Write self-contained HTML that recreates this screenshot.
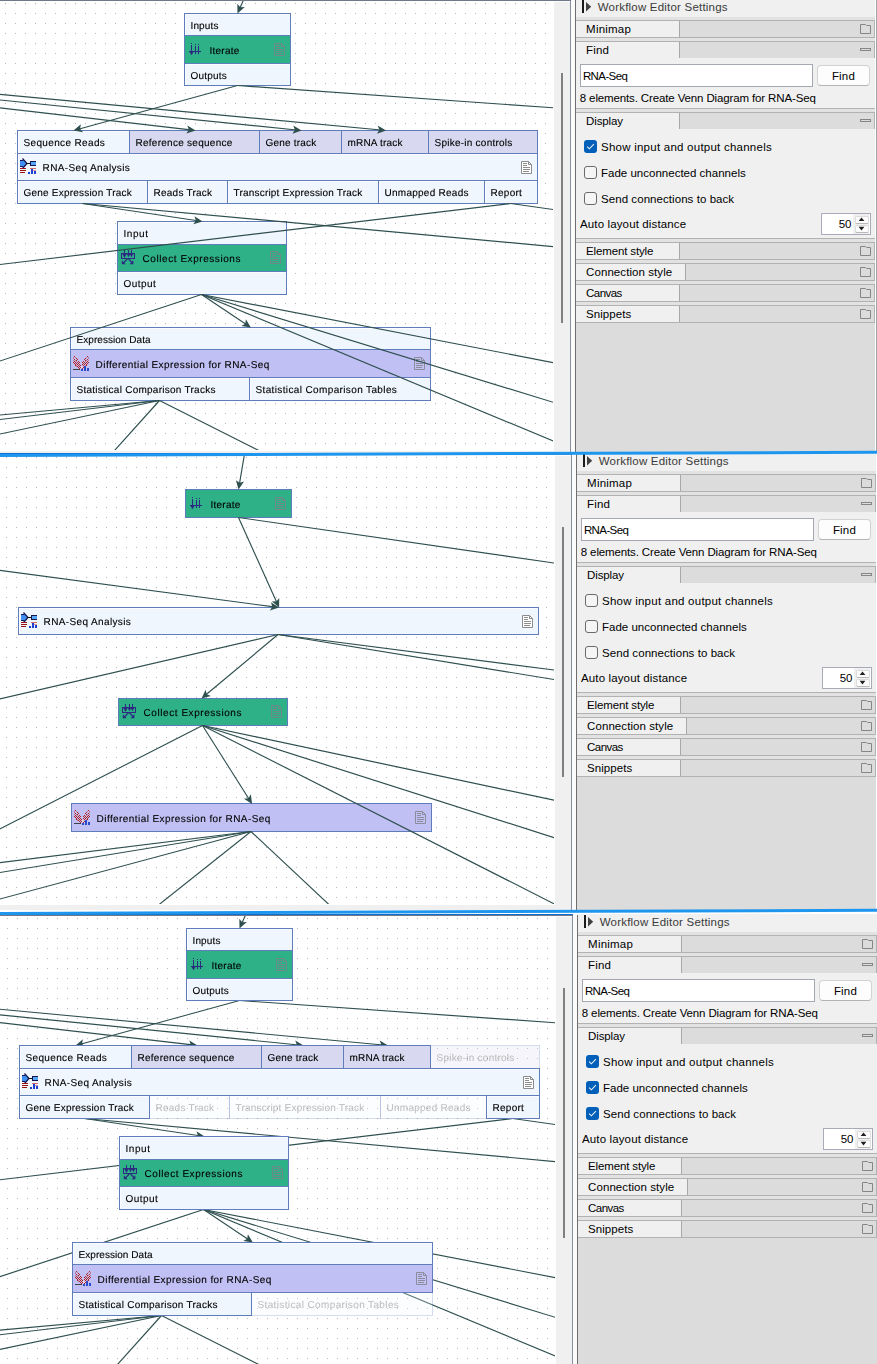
<!DOCTYPE html><html><head><meta charset="utf-8"><title>Workflow Editor</title><style>

html,body{margin:0;padding:0}
body{width:877px;height:1364px;position:relative;overflow:hidden;background:#fff;font-family:"Liberation Sans",sans-serif}
.shot{position:absolute;overflow:hidden;background:#fff}
.canvas{position:absolute;top:0;height:451px;overflow:hidden;background:#fff}
.r{position:absolute;display:block}
.nl{position:absolute;left:0;top:0;width:554px;height:451px;will-change:transform}
.c{position:absolute;border:1px solid #5f7cbb;overflow:hidden}
.c.l{box-shadow:inset 1px 1px 0 rgba(255,255,255,.7)}
.c.f{opacity:.26}
.t{position:absolute;white-space:nowrap;line-height:16px;height:16px}
.t.g{font-size:10.0px;text-rendering:geometricPrecision;-webkit-text-stroke:0.12px currentColor}
.t.p{font-size:11.5px}

</style></head><body>
<div class="shot" style="left:0;top:0px;width:877px;height:453px"><div class="r" style="left:0px;top:0;width:877px;height:453px">
<div class="r" style="left:554px;top:0px;width:16px;height:456px;background:#f0f0f0;"></div>
<div class="r" style="left:554px;top:1px;width:16px;height:1px;background:#fbfbfb;"></div>
<div class="r" style="left:0px;top:451px;width:570px;height:5px;background:#f0f0f0;"></div>
<div class="r" style="left:561px;top:73px;width:2px;height:250px;background:#808080;"></div>
<div class="r" style="left:570px;top:0px;width:1px;height:453px;background:#8890a0;"></div>
<div class="r" style="left:571px;top:0px;width:4px;height:453px;background:#fbfbfb;"></div>
<div class="r" style="left:575px;top:0px;width:1px;height:453px;background:#6e6e6e;"></div>
<div class="r" style="left:875px;top:0px;width:1px;height:453px;background:#ffffff;"></div>
<div class="r" style="left:876px;top:0px;width:1px;height:453px;background:#a4a4a4;"></div>
<div class="canvas" style="left:0px;width:554px"><div class="r" style="left:0px;top:0;width:554px;height:451px">
<svg class="r" style="left:-10px;top:0" width="564" height="451"><defs><pattern id="d1" x="0" y="0" width="10" height="10" patternUnits="userSpaceOnUse"><rect x="5" y="3" width="1" height="1" fill="#b8b8b8"/></pattern></defs><rect width="564" height="451" fill="url(#d1)" shape-rendering="crispEdges"/></svg>
<div class="nl"><div class="c l" style="left:184px;top:13px;width:105px;height:21px;background:#f0f6fe;"><span class="t g" style="left:5.50px;top:5px;letter-spacing:0.132px;color:#000">Inputs</span></div>
<div class="c l" style="left:184px;top:63px;width:105px;height:21px;background:#f0f6fe;"><span class="t g" style="left:5.50px;top:5px;letter-spacing:0.197px;color:#000">Outputs</span></div>
<div class="c" style="left:184px;top:35px;width:105px;height:27px;background:#2fb188;"><span class="t g" style="left:24.60px;top:8px;letter-spacing:0.209px;color:#000">Iterate</span></div>
<div class="c l" style="left:17px;top:130px;width:111px;height:22px;background:#f0f6fe;"><span class="t g" style="left:5.50px;top:5px;letter-spacing:0.352px;color:#000">Sequence Reads</span></div>
<div class="c" style="left:129px;top:130px;width:129px;height:22px;background:#d8d8f0;"><span class="t g" style="left:5.50px;top:5px;letter-spacing:0.266px;color:#000">Reference sequence</span></div>
<div class="c" style="left:259px;top:130px;width:81px;height:22px;background:#d8d8f0;"><span class="t g" style="left:5.50px;top:5px;letter-spacing:0.199px;color:#000">Gene track</span></div>
<div class="c" style="left:341px;top:130px;width:86px;height:22px;background:#d8d8f0;"><span class="t g" style="left:5.50px;top:5px;letter-spacing:0.185px;color:#000">mRNA track</span></div>
<div class="c" style="left:428px;top:130px;width:108px;height:22px;background:#d8d8f0;"><span class="t g" style="left:5.50px;top:5px;letter-spacing:0.243px;color:#000">Spike-in controls</span></div>
<div class="c l" style="left:17px;top:180px;width:129px;height:22px;background:#f0f6fe;"><span class="t g" style="left:5.50px;top:5px;letter-spacing:0.214px;color:#000">Gene Expression Track</span></div>
<div class="c l" style="left:147px;top:180px;width:79px;height:22px;background:#f0f6fe;"><span class="t g" style="left:5.50px;top:5px;letter-spacing:0.247px;color:#000">Reads Track</span></div>
<div class="c l" style="left:227px;top:180px;width:150px;height:22px;background:#f0f6fe;"><span class="t g" style="left:5.50px;top:5px;letter-spacing:0.202px;color:#000">Transcript Expression Track</span></div>
<div class="c l" style="left:378px;top:180px;width:105px;height:22px;background:#f0f6fe;"><span class="t g" style="left:5.50px;top:5px;letter-spacing:0.262px;color:#000">Unmapped Reads</span></div>
<div class="c l" style="left:484px;top:180px;width:52px;height:22px;background:#f0f6fe;"><span class="t g" style="left:5.50px;top:5px;letter-spacing:0.277px;color:#000">Report</span></div>
<div class="c l" style="left:17px;top:153px;width:519px;height:26px;background:#f0f6fe;"><span class="t g" style="left:24.60px;top:7px;letter-spacing:0.367px;color:#000">RNA-Seq Analysis</span></div>
<div class="c l" style="left:117px;top:221px;width:168px;height:22px;background:#f0f6fe;"><span class="t g" style="left:5.50px;top:5px;letter-spacing:0.565px;color:#000">Input</span></div>
<div class="c l" style="left:117px;top:271px;width:168px;height:22px;background:#f0f6fe;"><span class="t g" style="left:5.50px;top:5px;letter-spacing:0.457px;color:#000">Output</span></div>
<div class="c" style="left:117px;top:244px;width:168px;height:26px;background:#2fb188;"><span class="t g" style="left:24.60px;top:7px;letter-spacing:0.555px;color:#000">Collect Expressions</span></div>
<div class="c l" style="left:70px;top:327px;width:359px;height:21px;background:#f0f6fe;"><span class="t g" style="left:5.50px;top:5px;letter-spacing:0.052px;color:#000">Expression Data</span></div>
<div class="c l" style="left:70px;top:377px;width:178px;height:22px;background:#f0f6fe;"><span class="t g" style="left:5.50px;top:5px;letter-spacing:0.257px;color:#000">Statistical Comparison Tracks</span></div>
<div class="c l" style="left:249px;top:377px;width:180px;height:22px;background:#f0f6fe;"><span class="t g" style="left:5.50px;top:5px;letter-spacing:0.369px;color:#000">Statistical Comparison Tables</span></div>
<div class="c" style="left:70px;top:349px;width:359px;height:27px;background:#c0c0f4;"><span class="t g" style="left:24.60px;top:8px;letter-spacing:0.423px;color:#000">Differential Expression for RNA-Seq</span></div></div>
<svg class="r" style="left:0;top:0" width="554" height="451"><g fill="#2b2a80" shape-rendering="crispEdges"><rect x="191" y="43" width="1" height="1"/><rect x="195" y="44" width="1" height="1"/><rect x="198" y="44" width="1" height="1"/><rect x="191" y="45" width="1" height="9"/><rect x="195" y="46" width="1" height="8"/><rect x="198" y="46" width="1" height="8"/><rect x="189" y="51" width="12" height="1"/></g><path d="M189.3,51.5 L193.7,51.5 L191.5,55.2 Z" fill="#2b2a80"/><g transform="translate(274,43)" opacity="0.8"><path d="M0.5,0.5 H7.5 L10.5,3.5 V12.5 H0.5 Z" fill="none" stroke="#7d8088" stroke-width="1"/><path d="M7.5,0.5 V3.5 H10.5" fill="none" stroke="#7d8088" stroke-width="1"/><rect x="2" y="2" width="4" height="1" fill="#7d8088" shape-rendering="crispEdges"/><rect x="2" y="4" width="4" height="1" fill="#7d8088" shape-rendering="crispEdges"/><rect x="2" y="6" width="7" height="1" fill="#7d8088" shape-rendering="crispEdges"/><rect x="2" y="8" width="7" height="1" fill="#7d8088" shape-rendering="crispEdges"/><rect x="2" y="10" width="6" height="1" fill="#7d8088" shape-rendering="crispEdges"/></g><g shape-rendering="crispEdges"><path d="M20,161 H23 V159 L27,163.5 L23,168 V166 H20 Z" fill="#3f8ff0" shape-rendering="geometricPrecision"/><rect x="20" y="160" width="3" height="1" fill="#1a1a5a"/><rect x="20" y="166" width="3" height="1" fill="#1a1a5a"/><path d="M22.5,158.5 L27,163.5 L22.5,168.5" fill="none" stroke="#141450" stroke-width="1.2" shape-rendering="geometricPrecision"/><rect x="26" y="163" width="5" height="1" fill="#111"/><rect x="30" y="161" width="6" height="5" fill="#141450"/><rect x="31" y="162" width="5" height="3" fill="#58a6f8"/><rect x="20" y="168" width="6" height="1" fill="#9b1010"/><rect x="20" y="170" width="6" height="1" fill="#9b1010"/><rect x="20" y="172" width="5" height="1" fill="#9b1010"/><rect x="30" y="168" width="6" height="1" fill="#d06a6a"/><rect x="33" y="170" width="3" height="1" fill="#e09a9a"/><rect x="28" y="172" width="2" height="2" fill="#2040d0"/><rect x="31" y="169" width="2" height="5" fill="#2040d0"/><rect x="34" y="171" width="2" height="3" fill="#2040d0"/></g><g transform="translate(521,161)" opacity="1"><path d="M0.5,0.5 H7.5 L10.5,3.5 V12.5 H0.5 Z" fill="#ffffff" stroke="#8c8c8c" stroke-width="1"/><path d="M7.5,0.5 V3.5 H10.5" fill="none" stroke="#8c8c8c" stroke-width="1"/><rect x="2" y="2" width="4" height="1" fill="#8c8c8c" shape-rendering="crispEdges"/><rect x="2" y="4" width="4" height="1" fill="#8c8c8c" shape-rendering="crispEdges"/><rect x="2" y="6" width="7" height="1" fill="#8c8c8c" shape-rendering="crispEdges"/><rect x="2" y="8" width="7" height="1" fill="#8c8c8c" shape-rendering="crispEdges"/><rect x="2" y="10" width="6" height="1" fill="#8c8c8c" shape-rendering="crispEdges"/></g><g fill="#2b2a80" shape-rendering="crispEdges"><rect x="124" y="250" width="1" height="6"/><rect x="128" y="250" width="1" height="5"/><rect x="131" y="250" width="1" height="5"/><rect x="121" y="253" width="14" height="1"/><rect x="121" y="258" width="14" height="1"/><rect x="121" y="253" width="1" height="6"/><rect x="134" y="253" width="1" height="6"/></g><g fill="#2b2a80" stroke="#2b2a80"><path d="M122.4,254 L126.6,254 L124.5,258 Z M126.8,254 L130.2,254 L128.5,257.2 Z M129.8,254 L133.2,254 L131.5,257.2 Z" stroke="none"/><path d="M127.3,259 L123.3,263 M128.5,259 L132,262.5" stroke-width="1.1" fill="none"/><path d="M121.8,260.3 V264.2 H125.7 Z M133.4,260.3 V264.2 H129.5 Z" stroke="none"/></g><g transform="translate(270,251)" opacity="0.8"><path d="M0.5,0.5 H7.5 L10.5,3.5 V12.5 H0.5 Z" fill="none" stroke="#7d8088" stroke-width="1"/><path d="M7.5,0.5 V3.5 H10.5" fill="none" stroke="#7d8088" stroke-width="1"/><rect x="2" y="2" width="4" height="1" fill="#7d8088" shape-rendering="crispEdges"/><rect x="2" y="4" width="4" height="1" fill="#7d8088" shape-rendering="crispEdges"/><rect x="2" y="6" width="7" height="1" fill="#7d8088" shape-rendering="crispEdges"/><rect x="2" y="8" width="7" height="1" fill="#7d8088" shape-rendering="crispEdges"/><rect x="2" y="10" width="6" height="1" fill="#7d8088" shape-rendering="crispEdges"/></g><g shape-rendering="crispEdges"><rect x="74" y="356" width="1" height="1" fill="#b42222" opacity="1.0"/><rect x="76" y="358" width="1" height="1" fill="#b42222" opacity="1.0"/><rect x="74" y="359" width="1" height="1" fill="#b42222" opacity="1.0"/><rect x="77" y="359" width="1" height="1" fill="#b42222" opacity="1.0"/><rect x="76" y="360" width="1" height="1" fill="#b42222" opacity="1.0"/><rect x="74" y="361" width="1" height="1" fill="#b42222" opacity="1.0"/><rect x="78" y="361" width="1" height="1" fill="#b42222" opacity="1.0"/><rect x="73" y="362" width="1" height="1" fill="#b42222" opacity="1.0"/><rect x="75" y="362" width="1" height="1" fill="#b42222" opacity="1.0"/><rect x="77" y="362" width="1" height="1" fill="#b42222" opacity="1.0"/><rect x="79" y="362" width="1" height="1" fill="#b42222" opacity="1.0"/><rect x="74" y="363" width="1" height="1" fill="#b42222" opacity="1.0"/><rect x="76" y="363" width="1" height="1" fill="#b42222" opacity="1.0"/><rect x="78" y="363" width="1" height="1" fill="#b42222" opacity="1.0"/><rect x="75" y="364" width="1" height="1" fill="#b42222" opacity="1.0"/><rect x="77" y="364" width="1" height="1" fill="#b42222" opacity="1.0"/><rect x="79" y="364" width="1" height="1" fill="#b42222" opacity="1.0"/><rect x="75" y="365" width="1" height="1" fill="#b42222" opacity="1.0"/><rect x="78" y="365" width="1" height="1" fill="#b42222" opacity="1.0"/><rect x="80" y="365" width="1" height="1" fill="#b42222" opacity="1.0"/><rect x="77" y="366" width="1" height="1" fill="#b42222" opacity="1.0"/><rect x="79" y="366" width="1" height="1" fill="#b42222" opacity="1.0"/><rect x="78" y="367" width="1" height="1" fill="#b42222" opacity="1.0"/><rect x="80" y="367" width="1" height="1" fill="#b42222" opacity="1.0"/><rect x="79" y="368" width="1" height="1" fill="#b42222" opacity="1.0"/><rect x="87" y="356" width="1" height="1" fill="#b42222" opacity="1.0"/><rect x="85" y="358" width="1" height="1" fill="#b42222" opacity="1.0"/><rect x="87" y="359" width="1" height="1" fill="#b42222" opacity="1.0"/><rect x="84" y="359" width="1" height="1" fill="#b42222" opacity="1.0"/><rect x="85" y="360" width="1" height="1" fill="#b42222" opacity="1.0"/><rect x="87" y="361" width="1" height="1" fill="#b42222" opacity="1.0"/><rect x="83" y="361" width="1" height="1" fill="#b42222" opacity="1.0"/><rect x="88" y="362" width="1" height="1" fill="#b42222" opacity="1.0"/><rect x="86" y="362" width="1" height="1" fill="#b42222" opacity="1.0"/><rect x="84" y="362" width="1" height="1" fill="#b42222" opacity="1.0"/><rect x="82" y="362" width="1" height="1" fill="#b42222" opacity="1.0"/><rect x="87" y="363" width="1" height="1" fill="#b42222" opacity="1.0"/><rect x="85" y="363" width="1" height="1" fill="#b42222" opacity="1.0"/><rect x="83" y="363" width="1" height="1" fill="#b42222" opacity="1.0"/><rect x="86" y="364" width="1" height="1" fill="#b42222" opacity="1.0"/><rect x="84" y="364" width="1" height="1" fill="#b42222" opacity="1.0"/><rect x="82" y="364" width="1" height="1" fill="#b42222" opacity="1.0"/><rect x="86" y="365" width="1" height="1" fill="#b42222" opacity="1.0"/><rect x="83" y="365" width="1" height="1" fill="#b42222" opacity="1.0"/><rect x="84" y="366" width="1" height="1" fill="#b42222" opacity="1.0"/><rect x="82" y="366" width="1" height="1" fill="#b42222" opacity="1.0"/><rect x="83" y="367" width="1" height="1" fill="#b42222" opacity="1.0"/><rect x="82" y="368" width="1" height="1" fill="#b42222" opacity="1.0"/><rect x="73" y="357" width="1" height="1" fill="#b42222" opacity="0.45"/><rect x="75" y="357" width="1" height="1" fill="#b42222" opacity="0.45"/><rect x="73" y="358" width="1" height="1" fill="#b42222" opacity="0.45"/><rect x="73" y="360" width="1" height="1" fill="#b42222" opacity="0.45"/><rect x="75" y="360" width="1" height="1" fill="#b42222" opacity="0.45"/><rect x="76" y="361" width="1" height="1" fill="#b42222" opacity="0.45"/><rect x="76" y="365" width="1" height="1" fill="#b42222" opacity="0.45"/><rect x="76" y="366" width="1" height="1" fill="#b42222" opacity="0.45"/><rect x="88" y="357" width="1" height="1" fill="#b42222" opacity="0.45"/><rect x="86" y="357" width="1" height="1" fill="#b42222" opacity="0.45"/><rect x="88" y="358" width="1" height="1" fill="#b42222" opacity="0.45"/><rect x="88" y="360" width="1" height="1" fill="#b42222" opacity="0.45"/><rect x="86" y="360" width="1" height="1" fill="#b42222" opacity="0.45"/><rect x="85" y="361" width="1" height="1" fill="#b42222" opacity="0.45"/><rect x="85" y="365" width="1" height="1" fill="#b42222" opacity="0.45"/><rect x="85" y="366" width="1" height="1" fill="#b42222" opacity="0.45"/><rect x="73" y="369" width="7" height="1" fill="#404048"/><rect x="81" y="369" width="2" height="2" fill="#2a4ad0"/><rect x="84" y="366" width="2" height="5" fill="#2a4ad0"/><rect x="87" y="368" width="2" height="3" fill="#2a4ad0"/><rect x="81" y="366" width="2" height="2" fill="#f4e8ec" opacity="0.7"/></g><g transform="translate(414,357)" opacity="0.8"><path d="M0.5,0.5 H7.5 L10.5,3.5 V12.5 H0.5 Z" fill="none" stroke="#7d8088" stroke-width="1"/><path d="M7.5,0.5 V3.5 H10.5" fill="none" stroke="#7d8088" stroke-width="1"/><rect x="2" y="2" width="4" height="1" fill="#7d8088" shape-rendering="crispEdges"/><rect x="2" y="4" width="4" height="1" fill="#7d8088" shape-rendering="crispEdges"/><rect x="2" y="6" width="7" height="1" fill="#7d8088" shape-rendering="crispEdges"/><rect x="2" y="8" width="7" height="1" fill="#7d8088" shape-rendering="crispEdges"/><rect x="2" y="10" width="6" height="1" fill="#7d8088" shape-rendering="crispEdges"/></g></svg>
<svg class="r" style="left:0px;top:0" width="553" height="450" viewBox="0 0 553 450"><g stroke="#2f4f4f" stroke-width="1.15" fill="none"><line x1="243.50" y1="0.00" x2="239.53" y2="8.93"/><line x1="237.50" y1="85.50" x2="78.32" y2="129.18"/><line x1="237.50" y1="85.50" x2="553.50" y2="107.80"/><line x1="-4.00" y1="94.03" x2="381.12" y2="130.03"/><line x1="-4.00" y1="99.60" x2="296.63" y2="130.00"/><line x1="-4.00" y1="107.34" x2="190.63" y2="129.92"/><line x1="82.50" y1="203.50" x2="197.66" y2="220.76"/><line x1="82.50" y1="203.50" x2="553.50" y2="246.60"/><line x1="510.70" y1="203.50" x2="-4.00" y2="264.98"/><line x1="510.70" y1="203.50" x2="553.50" y2="209.60"/><line x1="201.50" y1="294.50" x2="-4.00" y2="362.32"/><line x1="201.50" y1="294.50" x2="246.74" y2="324.72"/><line x1="201.50" y1="294.50" x2="553.50" y2="362.70"/><line x1="201.50" y1="294.50" x2="553.50" y2="402.40"/><line x1="201.50" y1="294.50" x2="553.50" y2="441.20"/><line x1="159.50" y1="400.50" x2="-4.00" y2="415.36"/><line x1="159.50" y1="400.50" x2="-4.00" y2="419.98"/><line x1="159.50" y1="400.50" x2="-4.00" y2="434.84"/><line x1="159.50" y1="400.50" x2="106.00" y2="460.00"/><line x1="159.50" y1="400.50" x2="277.70" y2="460.00"/></g><path d="M237.50,13.50 L237.33,3.79 L240.26,7.29 L244.82,7.12 Z" fill="#2f4f4f"/><path d="M73.50,130.50 L80.90,124.22 L80.06,128.70 L83.07,132.13 Z" fill="#2f4f4f"/><path d="M386.10,130.50 L376.96,133.76 L379.33,129.87 L377.72,125.60 Z" fill="#2f4f4f"/><path d="M301.60,130.50 L292.43,133.69 L294.83,129.82 L293.26,125.54 Z" fill="#2f4f4f"/><path d="M195.60,130.50 L186.39,133.56 L188.85,129.72 L187.33,125.41 Z" fill="#2f4f4f"/><path d="M202.60,221.50 L193.29,224.25 L195.88,220.49 L194.50,216.14 Z" fill="#2f4f4f"/><path d="M250.90,327.50 L241.31,326.02 L245.25,323.72 L245.86,319.20 Z" fill="#2f4f4f"/></svg>
</div></div>
<div class="r" style="left:0px;top:0px;width:571px;height:1px;background:#70788a;"></div>
<div class="r" style="left:576px;top:0px;width:299px;height:453px;background:#f0f0f0;"></div>
<div class="r" style="left:582px;top:0px;width:2px;height:13px;background:#1a1a1a;"></div>
<svg class="r" style="left:586px;top:2px" width="6" height="10" viewBox="0 0 6 10"><path d="M0,0 L5.2,4.7 L0,9.4 Z" fill="#404040"/></svg>
<span class="t p" style="left:597.70px;top:-1px;letter-spacing:0.210px;color:#3a3a3a">Workflow Editor Settings</span>
<div class="r" style="left:576px;top:17px;width:299px;height:3px;background:#e2e2e2;"></div><div class="r" style="left:576px;top:20px;width:299px;height:1px;background:#b2b2b2;"></div><div class="r" style="left:680px;top:21px;width:194px;height:16px;background:#dcdcdc;"></div><div class="r" style="left:679px;top:21px;width:1px;height:16px;background:#a8a8a8;"></div><div class="r" style="left:874px;top:21px;width:1px;height:16px;background:#b2b2b2;"></div><div class="r" style="left:576px;top:37px;width:299px;height:1px;background:#b2b2b2;"></div><svg class="r" style="left:860px;top:24px" width="11" height="10" viewBox="0 0 11 10"><path d="M0.5,9.5 V0.5 H5.5 L6.5,1.5 H10.5 V9.5 Z" fill="none" stroke="#868686" stroke-width="1"/></svg><span class="t p" style="left:586.10px;top:21px;letter-spacing:0.205px;color:#000">Minimap</span>
<div class="r" style="left:576px;top:38px;width:299px;height:3px;background:#e2e2e2;"></div><div class="r" style="left:576px;top:41px;width:299px;height:1px;background:#b2b2b2;"></div><div class="r" style="left:680px;top:42px;width:194px;height:16px;background:#dcdcdc;"></div><div class="r" style="left:679px;top:42px;width:1px;height:16px;background:#a8a8a8;"></div><div class="r" style="left:874px;top:42px;width:1px;height:16px;background:#b2b2b2;"></div><div class="r" style="left:860px;top:48px;width:9px;height:1px;background:transparent;border:1px solid #868686;"></div><span class="t p" style="left:586.10px;top:42px;letter-spacing:0.175px;color:#000">Find</span>
<div class="r" style="left:580px;top:64px;width:231px;height:21px;background:#fff;border:1px solid #a4a8b2;"></div>
<span class="t p" style="left:582.90px;top:68px;letter-spacing:-0.596px;color:#000">RNA-Seq</span>
<div class="r" style="left:817px;top:65px;width:51px;height:19px;background:#fdfdfd;border:1px solid #d2d2d2;border-bottom-color:#b4b4b4;border-radius:4px;"></div>
<span class="t p" style="left:831.90px;top:68px;letter-spacing:0.175px;color:#000">Find</span>
<span class="t p" style="left:579.80px;top:90px;letter-spacing:-0.132px;color:#000">8 elements. Create Venn Diagram for RNA-Seq</span>
<div class="r" style="left:576px;top:108px;width:299px;height:1px;background:#b2b2b2;"></div>
<div class="r" style="left:576px;top:109px;width:299px;height:3px;background:#e2e2e2;"></div><div class="r" style="left:576px;top:112px;width:299px;height:1px;background:#b2b2b2;"></div><div class="r" style="left:680px;top:113px;width:194px;height:16px;background:#dcdcdc;"></div><div class="r" style="left:679px;top:113px;width:1px;height:16px;background:#a8a8a8;"></div><div class="r" style="left:874px;top:113px;width:1px;height:16px;background:#b2b2b2;"></div><div class="r" style="left:860px;top:119px;width:9px;height:1px;background:transparent;border:1px solid #868686;"></div><span class="t p" style="left:586.10px;top:113px;letter-spacing:-0.136px;color:#000">Display</span>
<svg class="r" style="left:584px;top:140px" width="13" height="13" viewBox="0 0 13 13"><rect x="0" y="0" width="13" height="13" rx="3" fill="#005fb8"/><path d="M3.1,6.6 L5.4,8.8 L9.9,4.2" fill="none" stroke="#e8f2fc" stroke-width="1.1"/></svg>
<span class="t p" style="left:601.00px;top:139px;letter-spacing:0.242px;color:#000">Show input and output channels</span>
<div class="r" style="left:584px;top:166px;width:11px;height:11px;background:#f5f5f5;border:1px solid #6a6a6a;border-radius:3px;"></div>
<span class="t p" style="left:601.00px;top:165px;letter-spacing:0.008px;color:#000">Fade unconnected channels</span>
<div class="r" style="left:584px;top:192px;width:11px;height:11px;background:#f5f5f5;border:1px solid #6a6a6a;border-radius:3px;"></div>
<span class="t p" style="left:601.00px;top:191px;letter-spacing:0.061px;color:#000">Send connections to back</span>
<span class="t p" style="left:580.00px;top:216px;letter-spacing:0.133px;color:#000">Auto layout distance</span>
<div class="r" style="left:821px;top:213px;width:48px;height:20px;background:#fff;border:1px solid #a8acb8;"></div>
<div class="r" style="left:853px;top:214px;width:16px;height:20px;background:#f0f0f0;"></div>
<div class="r" style="left:855px;top:216px;width:12px;height:6px;background:#fcfcfc;border:1px solid #dcdcdc;border-bottom-color:#b8b8b8;border-radius:2px;"></div>
<div class="r" style="left:855px;top:225px;width:12px;height:6px;background:#fcfcfc;border:1px solid #dcdcdc;border-bottom-color:#b8b8b8;border-radius:2px;"></div>
<svg class="r" style="left:858px;top:217px" width="7" height="14" viewBox="0 0 7 14"><path d="M0.6,4 L3.5,0.5 L6.4,4 Z M0.6,9.8 L3.5,13.4 L6.4,9.8 Z" fill="#202020"/></svg>
<span class="t p" style="left:838.80px;top:216px;letter-spacing:-0.297px;color:#000">50</span>
<div class="r" style="left:576px;top:238px;width:299px;height:1px;background:#b2b2b2;"></div>
<div class="r" style="left:576px;top:239px;width:299px;height:3px;background:#e2e2e2;"></div><div class="r" style="left:576px;top:242px;width:299px;height:1px;background:#b2b2b2;"></div><div class="r" style="left:680px;top:243px;width:194px;height:16px;background:#dcdcdc;"></div><div class="r" style="left:679px;top:243px;width:1px;height:16px;background:#a8a8a8;"></div><div class="r" style="left:874px;top:243px;width:1px;height:16px;background:#b2b2b2;"></div><div class="r" style="left:576px;top:259px;width:299px;height:1px;background:#b2b2b2;"></div><svg class="r" style="left:860px;top:246px" width="11" height="10" viewBox="0 0 11 10"><path d="M0.5,9.5 V0.5 H5.5 L6.5,1.5 H10.5 V9.5 Z" fill="none" stroke="#868686" stroke-width="1"/></svg><span class="t p" style="left:586.10px;top:243px;letter-spacing:-0.144px;color:#000">Element style</span>
<div class="r" style="left:576px;top:260px;width:299px;height:3px;background:#e2e2e2;"></div><div class="r" style="left:576px;top:263px;width:299px;height:1px;background:#b2b2b2;"></div><div class="r" style="left:686px;top:264px;width:188px;height:16px;background:#dcdcdc;"></div><div class="r" style="left:685px;top:264px;width:1px;height:16px;background:#a8a8a8;"></div><div class="r" style="left:874px;top:264px;width:1px;height:16px;background:#b2b2b2;"></div><div class="r" style="left:576px;top:280px;width:299px;height:1px;background:#b2b2b2;"></div><svg class="r" style="left:860px;top:267px" width="11" height="10" viewBox="0 0 11 10"><path d="M0.5,9.5 V0.5 H5.5 L6.5,1.5 H10.5 V9.5 Z" fill="none" stroke="#868686" stroke-width="1"/></svg><span class="t p" style="left:586.10px;top:264px;letter-spacing:0.071px;color:#000">Connection style</span>
<div class="r" style="left:576px;top:281px;width:299px;height:3px;background:#e2e2e2;"></div><div class="r" style="left:576px;top:284px;width:299px;height:1px;background:#b2b2b2;"></div><div class="r" style="left:680px;top:285px;width:194px;height:16px;background:#dcdcdc;"></div><div class="r" style="left:679px;top:285px;width:1px;height:16px;background:#a8a8a8;"></div><div class="r" style="left:874px;top:285px;width:1px;height:16px;background:#b2b2b2;"></div><div class="r" style="left:576px;top:301px;width:299px;height:1px;background:#b2b2b2;"></div><svg class="r" style="left:860px;top:288px" width="11" height="10" viewBox="0 0 11 10"><path d="M0.5,9.5 V0.5 H5.5 L6.5,1.5 H10.5 V9.5 Z" fill="none" stroke="#868686" stroke-width="1"/></svg><span class="t p" style="left:586.10px;top:285px;letter-spacing:-0.560px;color:#000">Canvas</span>
<div class="r" style="left:576px;top:302px;width:299px;height:3px;background:#e2e2e2;"></div><div class="r" style="left:576px;top:305px;width:299px;height:1px;background:#b2b2b2;"></div><div class="r" style="left:680px;top:306px;width:194px;height:16px;background:#dcdcdc;"></div><div class="r" style="left:679px;top:306px;width:1px;height:16px;background:#a8a8a8;"></div><div class="r" style="left:874px;top:306px;width:1px;height:16px;background:#b2b2b2;"></div><div class="r" style="left:576px;top:322px;width:299px;height:1px;background:#b2b2b2;"></div><svg class="r" style="left:860px;top:309px" width="11" height="10" viewBox="0 0 11 10"><path d="M0.5,9.5 V0.5 H5.5 L6.5,1.5 H10.5 V9.5 Z" fill="none" stroke="#868686" stroke-width="1"/></svg><span class="t p" style="left:586.10px;top:306px;letter-spacing:0.048px;color:#000">Snippets</span>
<div class="r" style="left:576px;top:323px;width:299px;height:130px;background:#dcdcdc;"></div>
</div></div>
<div class="shot" style="left:0;top:454px;width:877px;height:458px"><div class="r" style="left:1px;top:0;width:876px;height:458px">
<div class="r" style="left:554px;top:0px;width:16px;height:456px;background:#f0f0f0;"></div>
<div class="r" style="left:554px;top:1px;width:16px;height:1px;background:#fbfbfb;"></div>
<div class="r" style="left:-1px;top:451px;width:571px;height:5px;background:#f0f0f0;"></div>
<div class="r" style="left:561px;top:73px;width:2px;height:250px;background:#808080;"></div>
<div class="r" style="left:570px;top:0px;width:1px;height:458px;background:#8890a0;"></div>
<div class="r" style="left:571px;top:0px;width:4px;height:458px;background:#fbfbfb;"></div>
<div class="r" style="left:575px;top:0px;width:1px;height:458px;background:#6e6e6e;"></div>
<div class="r" style="left:875px;top:0px;width:1px;height:458px;background:#ffffff;"></div>
<div class="r" style="left:876px;top:0px;width:1px;height:458px;background:#a4a4a4;"></div>
<div class="canvas" style="left:-1px;width:555px"><div class="r" style="left:1px;top:0;width:554px;height:451px">
<svg class="r" style="left:-10px;top:0" width="564" height="451"><defs><pattern id="d2" x="0" y="0" width="10" height="10" patternUnits="userSpaceOnUse"><rect x="5" y="3" width="1" height="1" fill="#b8b8b8"/></pattern></defs><rect width="564" height="451" fill="url(#d2)" shape-rendering="crispEdges"/></svg>
<div class="nl"><div class="c" style="left:184px;top:35px;width:105px;height:27px;background:#2fb188;"><span class="t g" style="left:24.60px;top:8px;letter-spacing:0.209px;color:#000">Iterate</span></div>
<div class="c l" style="left:17px;top:153px;width:519px;height:26px;background:#f0f6fe;"><span class="t g" style="left:24.60px;top:7px;letter-spacing:0.367px;color:#000">RNA-Seq Analysis</span></div>
<div class="c" style="left:117px;top:244px;width:168px;height:26px;background:#2fb188;"><span class="t g" style="left:24.60px;top:7px;letter-spacing:0.555px;color:#000">Collect Expressions</span></div>
<div class="c" style="left:70px;top:349px;width:359px;height:27px;background:#c0c0f4;"><span class="t g" style="left:24.60px;top:8px;letter-spacing:0.423px;color:#000">Differential Expression for RNA-Seq</span></div></div>
<svg class="r" style="left:0;top:0" width="554" height="451"><g fill="#2b2a80" shape-rendering="crispEdges"><rect x="191" y="43" width="1" height="1"/><rect x="195" y="44" width="1" height="1"/><rect x="198" y="44" width="1" height="1"/><rect x="191" y="45" width="1" height="9"/><rect x="195" y="46" width="1" height="8"/><rect x="198" y="46" width="1" height="8"/><rect x="189" y="51" width="12" height="1"/></g><path d="M189.3,51.5 L193.7,51.5 L191.5,55.2 Z" fill="#2b2a80"/><g transform="translate(274,43)" opacity="0.8"><path d="M0.5,0.5 H7.5 L10.5,3.5 V12.5 H0.5 Z" fill="none" stroke="#7d8088" stroke-width="1"/><path d="M7.5,0.5 V3.5 H10.5" fill="none" stroke="#7d8088" stroke-width="1"/><rect x="2" y="2" width="4" height="1" fill="#7d8088" shape-rendering="crispEdges"/><rect x="2" y="4" width="4" height="1" fill="#7d8088" shape-rendering="crispEdges"/><rect x="2" y="6" width="7" height="1" fill="#7d8088" shape-rendering="crispEdges"/><rect x="2" y="8" width="7" height="1" fill="#7d8088" shape-rendering="crispEdges"/><rect x="2" y="10" width="6" height="1" fill="#7d8088" shape-rendering="crispEdges"/></g><g shape-rendering="crispEdges"><path d="M20,161 H23 V159 L27,163.5 L23,168 V166 H20 Z" fill="#3f8ff0" shape-rendering="geometricPrecision"/><rect x="20" y="160" width="3" height="1" fill="#1a1a5a"/><rect x="20" y="166" width="3" height="1" fill="#1a1a5a"/><path d="M22.5,158.5 L27,163.5 L22.5,168.5" fill="none" stroke="#141450" stroke-width="1.2" shape-rendering="geometricPrecision"/><rect x="26" y="163" width="5" height="1" fill="#111"/><rect x="30" y="161" width="6" height="5" fill="#141450"/><rect x="31" y="162" width="5" height="3" fill="#58a6f8"/><rect x="20" y="168" width="6" height="1" fill="#9b1010"/><rect x="20" y="170" width="6" height="1" fill="#9b1010"/><rect x="20" y="172" width="5" height="1" fill="#9b1010"/><rect x="30" y="168" width="6" height="1" fill="#d06a6a"/><rect x="33" y="170" width="3" height="1" fill="#e09a9a"/><rect x="28" y="172" width="2" height="2" fill="#2040d0"/><rect x="31" y="169" width="2" height="5" fill="#2040d0"/><rect x="34" y="171" width="2" height="3" fill="#2040d0"/></g><g transform="translate(521,161)" opacity="1"><path d="M0.5,0.5 H7.5 L10.5,3.5 V12.5 H0.5 Z" fill="#ffffff" stroke="#8c8c8c" stroke-width="1"/><path d="M7.5,0.5 V3.5 H10.5" fill="none" stroke="#8c8c8c" stroke-width="1"/><rect x="2" y="2" width="4" height="1" fill="#8c8c8c" shape-rendering="crispEdges"/><rect x="2" y="4" width="4" height="1" fill="#8c8c8c" shape-rendering="crispEdges"/><rect x="2" y="6" width="7" height="1" fill="#8c8c8c" shape-rendering="crispEdges"/><rect x="2" y="8" width="7" height="1" fill="#8c8c8c" shape-rendering="crispEdges"/><rect x="2" y="10" width="6" height="1" fill="#8c8c8c" shape-rendering="crispEdges"/></g><g fill="#2b2a80" shape-rendering="crispEdges"><rect x="124" y="250" width="1" height="6"/><rect x="128" y="250" width="1" height="5"/><rect x="131" y="250" width="1" height="5"/><rect x="121" y="253" width="14" height="1"/><rect x="121" y="258" width="14" height="1"/><rect x="121" y="253" width="1" height="6"/><rect x="134" y="253" width="1" height="6"/></g><g fill="#2b2a80" stroke="#2b2a80"><path d="M122.4,254 L126.6,254 L124.5,258 Z M126.8,254 L130.2,254 L128.5,257.2 Z M129.8,254 L133.2,254 L131.5,257.2 Z" stroke="none"/><path d="M127.3,259 L123.3,263 M128.5,259 L132,262.5" stroke-width="1.1" fill="none"/><path d="M121.8,260.3 V264.2 H125.7 Z M133.4,260.3 V264.2 H129.5 Z" stroke="none"/></g><g transform="translate(270,251)" opacity="0.8"><path d="M0.5,0.5 H7.5 L10.5,3.5 V12.5 H0.5 Z" fill="none" stroke="#7d8088" stroke-width="1"/><path d="M7.5,0.5 V3.5 H10.5" fill="none" stroke="#7d8088" stroke-width="1"/><rect x="2" y="2" width="4" height="1" fill="#7d8088" shape-rendering="crispEdges"/><rect x="2" y="4" width="4" height="1" fill="#7d8088" shape-rendering="crispEdges"/><rect x="2" y="6" width="7" height="1" fill="#7d8088" shape-rendering="crispEdges"/><rect x="2" y="8" width="7" height="1" fill="#7d8088" shape-rendering="crispEdges"/><rect x="2" y="10" width="6" height="1" fill="#7d8088" shape-rendering="crispEdges"/></g><g shape-rendering="crispEdges"><rect x="74" y="356" width="1" height="1" fill="#b42222" opacity="1.0"/><rect x="76" y="358" width="1" height="1" fill="#b42222" opacity="1.0"/><rect x="74" y="359" width="1" height="1" fill="#b42222" opacity="1.0"/><rect x="77" y="359" width="1" height="1" fill="#b42222" opacity="1.0"/><rect x="76" y="360" width="1" height="1" fill="#b42222" opacity="1.0"/><rect x="74" y="361" width="1" height="1" fill="#b42222" opacity="1.0"/><rect x="78" y="361" width="1" height="1" fill="#b42222" opacity="1.0"/><rect x="73" y="362" width="1" height="1" fill="#b42222" opacity="1.0"/><rect x="75" y="362" width="1" height="1" fill="#b42222" opacity="1.0"/><rect x="77" y="362" width="1" height="1" fill="#b42222" opacity="1.0"/><rect x="79" y="362" width="1" height="1" fill="#b42222" opacity="1.0"/><rect x="74" y="363" width="1" height="1" fill="#b42222" opacity="1.0"/><rect x="76" y="363" width="1" height="1" fill="#b42222" opacity="1.0"/><rect x="78" y="363" width="1" height="1" fill="#b42222" opacity="1.0"/><rect x="75" y="364" width="1" height="1" fill="#b42222" opacity="1.0"/><rect x="77" y="364" width="1" height="1" fill="#b42222" opacity="1.0"/><rect x="79" y="364" width="1" height="1" fill="#b42222" opacity="1.0"/><rect x="75" y="365" width="1" height="1" fill="#b42222" opacity="1.0"/><rect x="78" y="365" width="1" height="1" fill="#b42222" opacity="1.0"/><rect x="80" y="365" width="1" height="1" fill="#b42222" opacity="1.0"/><rect x="77" y="366" width="1" height="1" fill="#b42222" opacity="1.0"/><rect x="79" y="366" width="1" height="1" fill="#b42222" opacity="1.0"/><rect x="78" y="367" width="1" height="1" fill="#b42222" opacity="1.0"/><rect x="80" y="367" width="1" height="1" fill="#b42222" opacity="1.0"/><rect x="79" y="368" width="1" height="1" fill="#b42222" opacity="1.0"/><rect x="87" y="356" width="1" height="1" fill="#b42222" opacity="1.0"/><rect x="85" y="358" width="1" height="1" fill="#b42222" opacity="1.0"/><rect x="87" y="359" width="1" height="1" fill="#b42222" opacity="1.0"/><rect x="84" y="359" width="1" height="1" fill="#b42222" opacity="1.0"/><rect x="85" y="360" width="1" height="1" fill="#b42222" opacity="1.0"/><rect x="87" y="361" width="1" height="1" fill="#b42222" opacity="1.0"/><rect x="83" y="361" width="1" height="1" fill="#b42222" opacity="1.0"/><rect x="88" y="362" width="1" height="1" fill="#b42222" opacity="1.0"/><rect x="86" y="362" width="1" height="1" fill="#b42222" opacity="1.0"/><rect x="84" y="362" width="1" height="1" fill="#b42222" opacity="1.0"/><rect x="82" y="362" width="1" height="1" fill="#b42222" opacity="1.0"/><rect x="87" y="363" width="1" height="1" fill="#b42222" opacity="1.0"/><rect x="85" y="363" width="1" height="1" fill="#b42222" opacity="1.0"/><rect x="83" y="363" width="1" height="1" fill="#b42222" opacity="1.0"/><rect x="86" y="364" width="1" height="1" fill="#b42222" opacity="1.0"/><rect x="84" y="364" width="1" height="1" fill="#b42222" opacity="1.0"/><rect x="82" y="364" width="1" height="1" fill="#b42222" opacity="1.0"/><rect x="86" y="365" width="1" height="1" fill="#b42222" opacity="1.0"/><rect x="83" y="365" width="1" height="1" fill="#b42222" opacity="1.0"/><rect x="84" y="366" width="1" height="1" fill="#b42222" opacity="1.0"/><rect x="82" y="366" width="1" height="1" fill="#b42222" opacity="1.0"/><rect x="83" y="367" width="1" height="1" fill="#b42222" opacity="1.0"/><rect x="82" y="368" width="1" height="1" fill="#b42222" opacity="1.0"/><rect x="73" y="357" width="1" height="1" fill="#b42222" opacity="0.45"/><rect x="75" y="357" width="1" height="1" fill="#b42222" opacity="0.45"/><rect x="73" y="358" width="1" height="1" fill="#b42222" opacity="0.45"/><rect x="73" y="360" width="1" height="1" fill="#b42222" opacity="0.45"/><rect x="75" y="360" width="1" height="1" fill="#b42222" opacity="0.45"/><rect x="76" y="361" width="1" height="1" fill="#b42222" opacity="0.45"/><rect x="76" y="365" width="1" height="1" fill="#b42222" opacity="0.45"/><rect x="76" y="366" width="1" height="1" fill="#b42222" opacity="0.45"/><rect x="88" y="357" width="1" height="1" fill="#b42222" opacity="0.45"/><rect x="86" y="357" width="1" height="1" fill="#b42222" opacity="0.45"/><rect x="88" y="358" width="1" height="1" fill="#b42222" opacity="0.45"/><rect x="88" y="360" width="1" height="1" fill="#b42222" opacity="0.45"/><rect x="86" y="360" width="1" height="1" fill="#b42222" opacity="0.45"/><rect x="85" y="361" width="1" height="1" fill="#b42222" opacity="0.45"/><rect x="85" y="365" width="1" height="1" fill="#b42222" opacity="0.45"/><rect x="85" y="366" width="1" height="1" fill="#b42222" opacity="0.45"/><rect x="73" y="369" width="7" height="1" fill="#404048"/><rect x="81" y="369" width="2" height="2" fill="#2a4ad0"/><rect x="84" y="366" width="2" height="5" fill="#2a4ad0"/><rect x="87" y="368" width="2" height="3" fill="#2a4ad0"/><rect x="81" y="366" width="2" height="2" fill="#f4e8ec" opacity="0.7"/></g><g transform="translate(414,357)" opacity="0.8"><path d="M0.5,0.5 H7.5 L10.5,3.5 V12.5 H0.5 Z" fill="none" stroke="#7d8088" stroke-width="1"/><path d="M7.5,0.5 V3.5 H10.5" fill="none" stroke="#7d8088" stroke-width="1"/><rect x="2" y="2" width="4" height="1" fill="#7d8088" shape-rendering="crispEdges"/><rect x="2" y="4" width="4" height="1" fill="#7d8088" shape-rendering="crispEdges"/><rect x="2" y="6" width="7" height="1" fill="#7d8088" shape-rendering="crispEdges"/><rect x="2" y="8" width="7" height="1" fill="#7d8088" shape-rendering="crispEdges"/><rect x="2" y="10" width="6" height="1" fill="#7d8088" shape-rendering="crispEdges"/></g></svg>
<svg class="r" style="left:-1px;top:0" width="554" height="450" viewBox="-1 0 554 450"><g stroke="#2f4f4f" stroke-width="1.15" fill="none"><line x1="243.50" y1="0.00" x2="238.33" y2="30.57"/><line x1="237.50" y1="63.50" x2="276.05" y2="149.04"/><line x1="237.50" y1="63.50" x2="553.00" y2="109.00"/><line x1="-4.00" y1="116.00" x2="273.14" y2="152.94"/><line x1="277.00" y1="180.50" x2="-4.00" y2="245.49"/><line x1="277.00" y1="180.50" x2="204.33" y2="241.29"/><line x1="277.00" y1="180.50" x2="553.00" y2="216.00"/><line x1="277.00" y1="180.50" x2="553.00" y2="225.50"/><line x1="201.50" y1="271.50" x2="-4.00" y2="376.43"/><line x1="201.50" y1="271.50" x2="248.43" y2="345.77"/><line x1="201.50" y1="271.50" x2="553.00" y2="346.20"/><line x1="201.50" y1="271.50" x2="553.00" y2="383.60"/><line x1="201.50" y1="271.50" x2="553.00" y2="449.80"/><line x1="250.00" y1="377.50" x2="-4.00" y2="408.97"/><line x1="250.00" y1="377.50" x2="-4.00" y2="418.99"/><line x1="250.00" y1="377.50" x2="-4.00" y2="445.81"/><line x1="250.00" y1="377.50" x2="146.20" y2="460.00"/><line x1="250.00" y1="377.50" x2="338.00" y2="460.00"/></g><path d="M237.50,35.50 L234.92,26.14 L238.63,28.80 L243.01,27.51 Z" fill="#2f4f4f"/><path d="M278.10,153.60 L270.75,147.26 L275.31,147.40 L278.22,143.89 Z" fill="#2f4f4f"/><path d="M278.10,153.60 L268.84,156.50 L271.36,152.70 L269.92,148.37 Z" fill="#2f4f4f"/><path d="M200.50,244.50 L204.62,235.71 L205.72,240.14 L209.88,242.00 Z" fill="#2f4f4f"/><path d="M251.10,350.00 L242.93,344.75 L247.47,344.25 L249.87,340.37 Z" fill="#2f4f4f"/></svg>
</div></div>
<div class="r" style="left:-1px;top:0px;width:572px;height:1px;background:#70788a;"></div>
<div class="r" style="left:576px;top:0px;width:299px;height:456px;background:#f0f0f0;"></div>
<div class="r" style="left:582px;top:0px;width:2px;height:13px;background:#1a1a1a;"></div>
<svg class="r" style="left:586px;top:2px" width="6" height="10" viewBox="0 0 6 10"><path d="M0,0 L5.2,4.7 L0,9.4 Z" fill="#404040"/></svg>
<span class="t p" style="left:597.70px;top:-1px;letter-spacing:0.210px;color:#3a3a3a">Workflow Editor Settings</span>
<div class="r" style="left:576px;top:17px;width:299px;height:3px;background:#e2e2e2;"></div><div class="r" style="left:576px;top:20px;width:299px;height:1px;background:#b2b2b2;"></div><div class="r" style="left:680px;top:21px;width:194px;height:16px;background:#dcdcdc;"></div><div class="r" style="left:679px;top:21px;width:1px;height:16px;background:#a8a8a8;"></div><div class="r" style="left:874px;top:21px;width:1px;height:16px;background:#b2b2b2;"></div><div class="r" style="left:576px;top:37px;width:299px;height:1px;background:#b2b2b2;"></div><svg class="r" style="left:860px;top:24px" width="11" height="10" viewBox="0 0 11 10"><path d="M0.5,9.5 V0.5 H5.5 L6.5,1.5 H10.5 V9.5 Z" fill="none" stroke="#868686" stroke-width="1"/></svg><span class="t p" style="left:586.10px;top:21px;letter-spacing:0.205px;color:#000">Minimap</span>
<div class="r" style="left:576px;top:38px;width:299px;height:3px;background:#e2e2e2;"></div><div class="r" style="left:576px;top:41px;width:299px;height:1px;background:#b2b2b2;"></div><div class="r" style="left:680px;top:42px;width:194px;height:16px;background:#dcdcdc;"></div><div class="r" style="left:679px;top:42px;width:1px;height:16px;background:#a8a8a8;"></div><div class="r" style="left:874px;top:42px;width:1px;height:16px;background:#b2b2b2;"></div><div class="r" style="left:860px;top:48px;width:9px;height:1px;background:transparent;border:1px solid #868686;"></div><span class="t p" style="left:586.10px;top:42px;letter-spacing:0.175px;color:#000">Find</span>
<div class="r" style="left:580px;top:64px;width:231px;height:21px;background:#fff;border:1px solid #a4a8b2;"></div>
<span class="t p" style="left:582.90px;top:68px;letter-spacing:-0.596px;color:#000">RNA-Seq</span>
<div class="r" style="left:817px;top:65px;width:51px;height:19px;background:#fdfdfd;border:1px solid #d2d2d2;border-bottom-color:#b4b4b4;border-radius:4px;"></div>
<span class="t p" style="left:831.90px;top:68px;letter-spacing:0.175px;color:#000">Find</span>
<span class="t p" style="left:579.80px;top:90px;letter-spacing:-0.132px;color:#000">8 elements. Create Venn Diagram for RNA-Seq</span>
<div class="r" style="left:576px;top:108px;width:299px;height:1px;background:#b2b2b2;"></div>
<div class="r" style="left:576px;top:109px;width:299px;height:3px;background:#e2e2e2;"></div><div class="r" style="left:576px;top:112px;width:299px;height:1px;background:#b2b2b2;"></div><div class="r" style="left:680px;top:113px;width:194px;height:16px;background:#dcdcdc;"></div><div class="r" style="left:679px;top:113px;width:1px;height:16px;background:#a8a8a8;"></div><div class="r" style="left:874px;top:113px;width:1px;height:16px;background:#b2b2b2;"></div><div class="r" style="left:860px;top:119px;width:9px;height:1px;background:transparent;border:1px solid #868686;"></div><span class="t p" style="left:586.10px;top:113px;letter-spacing:-0.136px;color:#000">Display</span>
<div class="r" style="left:584px;top:140px;width:11px;height:11px;background:#f5f5f5;border:1px solid #6a6a6a;border-radius:3px;"></div>
<span class="t p" style="left:601.00px;top:139px;letter-spacing:0.242px;color:#000">Show input and output channels</span>
<div class="r" style="left:584px;top:166px;width:11px;height:11px;background:#f5f5f5;border:1px solid #6a6a6a;border-radius:3px;"></div>
<span class="t p" style="left:601.00px;top:165px;letter-spacing:0.008px;color:#000">Fade unconnected channels</span>
<div class="r" style="left:584px;top:192px;width:11px;height:11px;background:#f5f5f5;border:1px solid #6a6a6a;border-radius:3px;"></div>
<span class="t p" style="left:601.00px;top:191px;letter-spacing:0.061px;color:#000">Send connections to back</span>
<span class="t p" style="left:580.00px;top:216px;letter-spacing:0.133px;color:#000">Auto layout distance</span>
<div class="r" style="left:821px;top:213px;width:48px;height:20px;background:#fff;border:1px solid #a8acb8;"></div>
<div class="r" style="left:853px;top:214px;width:16px;height:20px;background:#f0f0f0;"></div>
<div class="r" style="left:855px;top:216px;width:12px;height:6px;background:#fcfcfc;border:1px solid #dcdcdc;border-bottom-color:#b8b8b8;border-radius:2px;"></div>
<div class="r" style="left:855px;top:225px;width:12px;height:6px;background:#fcfcfc;border:1px solid #dcdcdc;border-bottom-color:#b8b8b8;border-radius:2px;"></div>
<svg class="r" style="left:858px;top:217px" width="7" height="14" viewBox="0 0 7 14"><path d="M0.6,4 L3.5,0.5 L6.4,4 Z M0.6,9.8 L3.5,13.4 L6.4,9.8 Z" fill="#202020"/></svg>
<span class="t p" style="left:838.80px;top:216px;letter-spacing:-0.297px;color:#000">50</span>
<div class="r" style="left:576px;top:238px;width:299px;height:1px;background:#b2b2b2;"></div>
<div class="r" style="left:576px;top:239px;width:299px;height:3px;background:#e2e2e2;"></div><div class="r" style="left:576px;top:242px;width:299px;height:1px;background:#b2b2b2;"></div><div class="r" style="left:680px;top:243px;width:194px;height:16px;background:#dcdcdc;"></div><div class="r" style="left:679px;top:243px;width:1px;height:16px;background:#a8a8a8;"></div><div class="r" style="left:874px;top:243px;width:1px;height:16px;background:#b2b2b2;"></div><div class="r" style="left:576px;top:259px;width:299px;height:1px;background:#b2b2b2;"></div><svg class="r" style="left:860px;top:246px" width="11" height="10" viewBox="0 0 11 10"><path d="M0.5,9.5 V0.5 H5.5 L6.5,1.5 H10.5 V9.5 Z" fill="none" stroke="#868686" stroke-width="1"/></svg><span class="t p" style="left:586.10px;top:243px;letter-spacing:-0.144px;color:#000">Element style</span>
<div class="r" style="left:576px;top:260px;width:299px;height:3px;background:#e2e2e2;"></div><div class="r" style="left:576px;top:263px;width:299px;height:1px;background:#b2b2b2;"></div><div class="r" style="left:686px;top:264px;width:188px;height:16px;background:#dcdcdc;"></div><div class="r" style="left:685px;top:264px;width:1px;height:16px;background:#a8a8a8;"></div><div class="r" style="left:874px;top:264px;width:1px;height:16px;background:#b2b2b2;"></div><div class="r" style="left:576px;top:280px;width:299px;height:1px;background:#b2b2b2;"></div><svg class="r" style="left:860px;top:267px" width="11" height="10" viewBox="0 0 11 10"><path d="M0.5,9.5 V0.5 H5.5 L6.5,1.5 H10.5 V9.5 Z" fill="none" stroke="#868686" stroke-width="1"/></svg><span class="t p" style="left:586.10px;top:264px;letter-spacing:0.071px;color:#000">Connection style</span>
<div class="r" style="left:576px;top:281px;width:299px;height:3px;background:#e2e2e2;"></div><div class="r" style="left:576px;top:284px;width:299px;height:1px;background:#b2b2b2;"></div><div class="r" style="left:680px;top:285px;width:194px;height:16px;background:#dcdcdc;"></div><div class="r" style="left:679px;top:285px;width:1px;height:16px;background:#a8a8a8;"></div><div class="r" style="left:874px;top:285px;width:1px;height:16px;background:#b2b2b2;"></div><div class="r" style="left:576px;top:301px;width:299px;height:1px;background:#b2b2b2;"></div><svg class="r" style="left:860px;top:288px" width="11" height="10" viewBox="0 0 11 10"><path d="M0.5,9.5 V0.5 H5.5 L6.5,1.5 H10.5 V9.5 Z" fill="none" stroke="#868686" stroke-width="1"/></svg><span class="t p" style="left:586.10px;top:285px;letter-spacing:-0.560px;color:#000">Canvas</span>
<div class="r" style="left:576px;top:302px;width:299px;height:3px;background:#e2e2e2;"></div><div class="r" style="left:576px;top:305px;width:299px;height:1px;background:#b2b2b2;"></div><div class="r" style="left:680px;top:306px;width:194px;height:16px;background:#dcdcdc;"></div><div class="r" style="left:679px;top:306px;width:1px;height:16px;background:#a8a8a8;"></div><div class="r" style="left:874px;top:306px;width:1px;height:16px;background:#b2b2b2;"></div><div class="r" style="left:576px;top:322px;width:299px;height:1px;background:#b2b2b2;"></div><svg class="r" style="left:860px;top:309px" width="11" height="10" viewBox="0 0 11 10"><path d="M0.5,9.5 V0.5 H5.5 L6.5,1.5 H10.5 V9.5 Z" fill="none" stroke="#868686" stroke-width="1"/></svg><span class="t p" style="left:586.10px;top:306px;letter-spacing:0.048px;color:#000">Snippets</span>
<div class="r" style="left:576px;top:323px;width:299px;height:133px;background:#dcdcdc;"></div>
</div></div>
<div class="shot" style="left:0;top:915px;width:877px;height:449px"><div class="r" style="left:2px;top:0;width:875px;height:449px">
<div class="r" style="left:554px;top:0px;width:16px;height:456px;background:#f0f0f0;"></div>
<div class="r" style="left:554px;top:1px;width:16px;height:1px;background:#fbfbfb;"></div>
<div class="r" style="left:-2px;top:451px;width:572px;height:5px;background:#f0f0f0;"></div>
<div class="r" style="left:561px;top:73px;width:2px;height:250px;background:#808080;"></div>
<div class="r" style="left:570px;top:0px;width:1px;height:449px;background:#8890a0;"></div>
<div class="r" style="left:571px;top:0px;width:4px;height:449px;background:#fbfbfb;"></div>
<div class="r" style="left:575px;top:0px;width:1px;height:449px;background:#6e6e6e;"></div>
<div class="r" style="left:875px;top:0px;width:1px;height:449px;background:#ffffff;"></div>
<div class="r" style="left:876px;top:0px;width:1px;height:449px;background:#a4a4a4;"></div>
<div class="canvas" style="left:-2px;width:556px"><div class="r" style="left:2px;top:0;width:554px;height:451px">
<svg class="r" style="left:-10px;top:0" width="564" height="451"><defs><pattern id="d3" x="0" y="0" width="10" height="10" patternUnits="userSpaceOnUse"><rect x="5" y="3" width="1" height="1" fill="#b8b8b8"/></pattern></defs><rect width="564" height="451" fill="url(#d3)" shape-rendering="crispEdges"/></svg>
<svg class="r" style="left:-2px;top:0" width="555" height="450" viewBox="-2 0 555 450"><g stroke="#2f4f4f" stroke-width="1.15" fill="none"><line x1="243.50" y1="0.00" x2="239.53" y2="8.93"/><line x1="237.50" y1="85.50" x2="78.32" y2="129.18"/><line x1="237.50" y1="85.50" x2="553.50" y2="107.80"/><line x1="-4.00" y1="94.03" x2="381.12" y2="130.03"/><line x1="-4.00" y1="99.60" x2="296.63" y2="130.00"/><line x1="-4.00" y1="107.34" x2="190.63" y2="129.92"/><line x1="82.50" y1="203.50" x2="197.66" y2="220.76"/><line x1="82.50" y1="203.50" x2="553.50" y2="246.60"/><line x1="510.70" y1="203.50" x2="-4.00" y2="264.98"/><line x1="510.70" y1="203.50" x2="553.50" y2="209.60"/><line x1="201.50" y1="294.50" x2="-4.00" y2="362.32"/><line x1="201.50" y1="294.50" x2="246.74" y2="324.72"/><line x1="201.50" y1="294.50" x2="553.50" y2="362.70"/><line x1="201.50" y1="294.50" x2="553.50" y2="402.40"/><line x1="201.50" y1="294.50" x2="553.50" y2="441.20"/><line x1="159.50" y1="400.50" x2="-4.00" y2="415.36"/><line x1="159.50" y1="400.50" x2="-4.00" y2="419.98"/><line x1="159.50" y1="400.50" x2="-4.00" y2="434.84"/><line x1="159.50" y1="400.50" x2="106.00" y2="460.00"/><line x1="159.50" y1="400.50" x2="277.70" y2="460.00"/></g><path d="M237.50,13.50 L237.33,3.79 L240.26,7.29 L244.82,7.12 Z" fill="#2f4f4f"/><path d="M73.50,130.50 L80.90,124.22 L80.06,128.70 L83.07,132.13 Z" fill="#2f4f4f"/><path d="M386.10,130.50 L376.96,133.76 L379.33,129.87 L377.72,125.60 Z" fill="#2f4f4f"/><path d="M301.60,130.50 L292.43,133.69 L294.83,129.82 L293.26,125.54 Z" fill="#2f4f4f"/><path d="M195.60,130.50 L186.39,133.56 L188.85,129.72 L187.33,125.41 Z" fill="#2f4f4f"/><path d="M202.60,221.50 L193.29,224.25 L195.88,220.49 L194.50,216.14 Z" fill="#2f4f4f"/><path d="M250.90,327.50 L241.31,326.02 L245.25,323.72 L245.86,319.20 Z" fill="#2f4f4f"/></svg>
<div class="nl"><div class="c l" style="left:184px;top:13px;width:105px;height:21px;background:#f0f6fe;"><span class="t g" style="left:5.50px;top:5px;letter-spacing:0.132px;color:#000">Inputs</span></div>
<div class="c l" style="left:184px;top:63px;width:105px;height:21px;background:#f0f6fe;"><span class="t g" style="left:5.50px;top:5px;letter-spacing:0.197px;color:#000">Outputs</span></div>
<div class="c" style="left:184px;top:35px;width:105px;height:27px;background:#2fb188;"><span class="t g" style="left:24.60px;top:8px;letter-spacing:0.209px;color:#000">Iterate</span></div>
<div class="c f" style="left:428px;top:130px;width:108px;height:22px;background:#d8d8f0;"><span class="t g" style="left:5.50px;top:5px;letter-spacing:0.243px;color:#000">Spike-in controls</span></div>
<div class="c f l" style="left:147px;top:180px;width:79px;height:22px;background:#f0f6fe;"><span class="t g" style="left:5.50px;top:5px;letter-spacing:0.247px;color:#000">Reads Track</span></div>
<div class="c f l" style="left:227px;top:180px;width:150px;height:22px;background:#f0f6fe;"><span class="t g" style="left:5.50px;top:5px;letter-spacing:0.202px;color:#000">Transcript Expression Track</span></div>
<div class="c f l" style="left:378px;top:180px;width:105px;height:22px;background:#f0f6fe;"><span class="t g" style="left:5.50px;top:5px;letter-spacing:0.262px;color:#000">Unmapped Reads</span></div>
<div class="c l" style="left:17px;top:130px;width:111px;height:22px;background:#f0f6fe;"><span class="t g" style="left:5.50px;top:5px;letter-spacing:0.352px;color:#000">Sequence Reads</span></div>
<div class="c" style="left:129px;top:130px;width:129px;height:22px;background:#d8d8f0;"><span class="t g" style="left:5.50px;top:5px;letter-spacing:0.266px;color:#000">Reference sequence</span></div>
<div class="c" style="left:259px;top:130px;width:81px;height:22px;background:#d8d8f0;"><span class="t g" style="left:5.50px;top:5px;letter-spacing:0.199px;color:#000">Gene track</span></div>
<div class="c" style="left:341px;top:130px;width:86px;height:22px;background:#d8d8f0;"><span class="t g" style="left:5.50px;top:5px;letter-spacing:0.185px;color:#000">mRNA track</span></div>
<div class="c l" style="left:17px;top:180px;width:129px;height:22px;background:#f0f6fe;"><span class="t g" style="left:5.50px;top:5px;letter-spacing:0.214px;color:#000">Gene Expression Track</span></div>
<div class="c l" style="left:484px;top:180px;width:52px;height:22px;background:#f0f6fe;"><span class="t g" style="left:5.50px;top:5px;letter-spacing:0.277px;color:#000">Report</span></div>
<div class="c l" style="left:17px;top:153px;width:519px;height:26px;background:#f0f6fe;"><span class="t g" style="left:24.60px;top:7px;letter-spacing:0.367px;color:#000">RNA-Seq Analysis</span></div>
<div class="c l" style="left:117px;top:221px;width:168px;height:22px;background:#f0f6fe;"><span class="t g" style="left:5.50px;top:5px;letter-spacing:0.565px;color:#000">Input</span></div>
<div class="c l" style="left:117px;top:271px;width:168px;height:22px;background:#f0f6fe;"><span class="t g" style="left:5.50px;top:5px;letter-spacing:0.457px;color:#000">Output</span></div>
<div class="c" style="left:117px;top:244px;width:168px;height:26px;background:#2fb188;"><span class="t g" style="left:24.60px;top:7px;letter-spacing:0.555px;color:#000">Collect Expressions</span></div>
<div class="c f l" style="left:249px;top:377px;width:180px;height:22px;background:#f0f6fe;"><span class="t g" style="left:5.50px;top:5px;letter-spacing:0.369px;color:#000">Statistical Comparison Tables</span></div>
<div class="c l" style="left:70px;top:327px;width:359px;height:21px;background:#f0f6fe;"><span class="t g" style="left:5.50px;top:5px;letter-spacing:0.052px;color:#000">Expression Data</span></div>
<div class="c l" style="left:70px;top:377px;width:178px;height:22px;background:#f0f6fe;"><span class="t g" style="left:5.50px;top:5px;letter-spacing:0.257px;color:#000">Statistical Comparison Tracks</span></div>
<div class="c" style="left:70px;top:349px;width:359px;height:27px;background:#c0c0f4;"><span class="t g" style="left:24.60px;top:8px;letter-spacing:0.423px;color:#000">Differential Expression for RNA-Seq</span></div></div>
<svg class="r" style="left:0;top:0" width="554" height="451"><g fill="#2b2a80" shape-rendering="crispEdges"><rect x="191" y="43" width="1" height="1"/><rect x="195" y="44" width="1" height="1"/><rect x="198" y="44" width="1" height="1"/><rect x="191" y="45" width="1" height="9"/><rect x="195" y="46" width="1" height="8"/><rect x="198" y="46" width="1" height="8"/><rect x="189" y="51" width="12" height="1"/></g><path d="M189.3,51.5 L193.7,51.5 L191.5,55.2 Z" fill="#2b2a80"/><g transform="translate(274,43)" opacity="0.8"><path d="M0.5,0.5 H7.5 L10.5,3.5 V12.5 H0.5 Z" fill="none" stroke="#7d8088" stroke-width="1"/><path d="M7.5,0.5 V3.5 H10.5" fill="none" stroke="#7d8088" stroke-width="1"/><rect x="2" y="2" width="4" height="1" fill="#7d8088" shape-rendering="crispEdges"/><rect x="2" y="4" width="4" height="1" fill="#7d8088" shape-rendering="crispEdges"/><rect x="2" y="6" width="7" height="1" fill="#7d8088" shape-rendering="crispEdges"/><rect x="2" y="8" width="7" height="1" fill="#7d8088" shape-rendering="crispEdges"/><rect x="2" y="10" width="6" height="1" fill="#7d8088" shape-rendering="crispEdges"/></g><g shape-rendering="crispEdges"><path d="M20,161 H23 V159 L27,163.5 L23,168 V166 H20 Z" fill="#3f8ff0" shape-rendering="geometricPrecision"/><rect x="20" y="160" width="3" height="1" fill="#1a1a5a"/><rect x="20" y="166" width="3" height="1" fill="#1a1a5a"/><path d="M22.5,158.5 L27,163.5 L22.5,168.5" fill="none" stroke="#141450" stroke-width="1.2" shape-rendering="geometricPrecision"/><rect x="26" y="163" width="5" height="1" fill="#111"/><rect x="30" y="161" width="6" height="5" fill="#141450"/><rect x="31" y="162" width="5" height="3" fill="#58a6f8"/><rect x="20" y="168" width="6" height="1" fill="#9b1010"/><rect x="20" y="170" width="6" height="1" fill="#9b1010"/><rect x="20" y="172" width="5" height="1" fill="#9b1010"/><rect x="30" y="168" width="6" height="1" fill="#d06a6a"/><rect x="33" y="170" width="3" height="1" fill="#e09a9a"/><rect x="28" y="172" width="2" height="2" fill="#2040d0"/><rect x="31" y="169" width="2" height="5" fill="#2040d0"/><rect x="34" y="171" width="2" height="3" fill="#2040d0"/></g><g transform="translate(521,161)" opacity="1"><path d="M0.5,0.5 H7.5 L10.5,3.5 V12.5 H0.5 Z" fill="#ffffff" stroke="#8c8c8c" stroke-width="1"/><path d="M7.5,0.5 V3.5 H10.5" fill="none" stroke="#8c8c8c" stroke-width="1"/><rect x="2" y="2" width="4" height="1" fill="#8c8c8c" shape-rendering="crispEdges"/><rect x="2" y="4" width="4" height="1" fill="#8c8c8c" shape-rendering="crispEdges"/><rect x="2" y="6" width="7" height="1" fill="#8c8c8c" shape-rendering="crispEdges"/><rect x="2" y="8" width="7" height="1" fill="#8c8c8c" shape-rendering="crispEdges"/><rect x="2" y="10" width="6" height="1" fill="#8c8c8c" shape-rendering="crispEdges"/></g><g fill="#2b2a80" shape-rendering="crispEdges"><rect x="124" y="250" width="1" height="6"/><rect x="128" y="250" width="1" height="5"/><rect x="131" y="250" width="1" height="5"/><rect x="121" y="253" width="14" height="1"/><rect x="121" y="258" width="14" height="1"/><rect x="121" y="253" width="1" height="6"/><rect x="134" y="253" width="1" height="6"/></g><g fill="#2b2a80" stroke="#2b2a80"><path d="M122.4,254 L126.6,254 L124.5,258 Z M126.8,254 L130.2,254 L128.5,257.2 Z M129.8,254 L133.2,254 L131.5,257.2 Z" stroke="none"/><path d="M127.3,259 L123.3,263 M128.5,259 L132,262.5" stroke-width="1.1" fill="none"/><path d="M121.8,260.3 V264.2 H125.7 Z M133.4,260.3 V264.2 H129.5 Z" stroke="none"/></g><g transform="translate(270,251)" opacity="0.8"><path d="M0.5,0.5 H7.5 L10.5,3.5 V12.5 H0.5 Z" fill="none" stroke="#7d8088" stroke-width="1"/><path d="M7.5,0.5 V3.5 H10.5" fill="none" stroke="#7d8088" stroke-width="1"/><rect x="2" y="2" width="4" height="1" fill="#7d8088" shape-rendering="crispEdges"/><rect x="2" y="4" width="4" height="1" fill="#7d8088" shape-rendering="crispEdges"/><rect x="2" y="6" width="7" height="1" fill="#7d8088" shape-rendering="crispEdges"/><rect x="2" y="8" width="7" height="1" fill="#7d8088" shape-rendering="crispEdges"/><rect x="2" y="10" width="6" height="1" fill="#7d8088" shape-rendering="crispEdges"/></g><g shape-rendering="crispEdges"><rect x="74" y="356" width="1" height="1" fill="#b42222" opacity="1.0"/><rect x="76" y="358" width="1" height="1" fill="#b42222" opacity="1.0"/><rect x="74" y="359" width="1" height="1" fill="#b42222" opacity="1.0"/><rect x="77" y="359" width="1" height="1" fill="#b42222" opacity="1.0"/><rect x="76" y="360" width="1" height="1" fill="#b42222" opacity="1.0"/><rect x="74" y="361" width="1" height="1" fill="#b42222" opacity="1.0"/><rect x="78" y="361" width="1" height="1" fill="#b42222" opacity="1.0"/><rect x="73" y="362" width="1" height="1" fill="#b42222" opacity="1.0"/><rect x="75" y="362" width="1" height="1" fill="#b42222" opacity="1.0"/><rect x="77" y="362" width="1" height="1" fill="#b42222" opacity="1.0"/><rect x="79" y="362" width="1" height="1" fill="#b42222" opacity="1.0"/><rect x="74" y="363" width="1" height="1" fill="#b42222" opacity="1.0"/><rect x="76" y="363" width="1" height="1" fill="#b42222" opacity="1.0"/><rect x="78" y="363" width="1" height="1" fill="#b42222" opacity="1.0"/><rect x="75" y="364" width="1" height="1" fill="#b42222" opacity="1.0"/><rect x="77" y="364" width="1" height="1" fill="#b42222" opacity="1.0"/><rect x="79" y="364" width="1" height="1" fill="#b42222" opacity="1.0"/><rect x="75" y="365" width="1" height="1" fill="#b42222" opacity="1.0"/><rect x="78" y="365" width="1" height="1" fill="#b42222" opacity="1.0"/><rect x="80" y="365" width="1" height="1" fill="#b42222" opacity="1.0"/><rect x="77" y="366" width="1" height="1" fill="#b42222" opacity="1.0"/><rect x="79" y="366" width="1" height="1" fill="#b42222" opacity="1.0"/><rect x="78" y="367" width="1" height="1" fill="#b42222" opacity="1.0"/><rect x="80" y="367" width="1" height="1" fill="#b42222" opacity="1.0"/><rect x="79" y="368" width="1" height="1" fill="#b42222" opacity="1.0"/><rect x="87" y="356" width="1" height="1" fill="#b42222" opacity="1.0"/><rect x="85" y="358" width="1" height="1" fill="#b42222" opacity="1.0"/><rect x="87" y="359" width="1" height="1" fill="#b42222" opacity="1.0"/><rect x="84" y="359" width="1" height="1" fill="#b42222" opacity="1.0"/><rect x="85" y="360" width="1" height="1" fill="#b42222" opacity="1.0"/><rect x="87" y="361" width="1" height="1" fill="#b42222" opacity="1.0"/><rect x="83" y="361" width="1" height="1" fill="#b42222" opacity="1.0"/><rect x="88" y="362" width="1" height="1" fill="#b42222" opacity="1.0"/><rect x="86" y="362" width="1" height="1" fill="#b42222" opacity="1.0"/><rect x="84" y="362" width="1" height="1" fill="#b42222" opacity="1.0"/><rect x="82" y="362" width="1" height="1" fill="#b42222" opacity="1.0"/><rect x="87" y="363" width="1" height="1" fill="#b42222" opacity="1.0"/><rect x="85" y="363" width="1" height="1" fill="#b42222" opacity="1.0"/><rect x="83" y="363" width="1" height="1" fill="#b42222" opacity="1.0"/><rect x="86" y="364" width="1" height="1" fill="#b42222" opacity="1.0"/><rect x="84" y="364" width="1" height="1" fill="#b42222" opacity="1.0"/><rect x="82" y="364" width="1" height="1" fill="#b42222" opacity="1.0"/><rect x="86" y="365" width="1" height="1" fill="#b42222" opacity="1.0"/><rect x="83" y="365" width="1" height="1" fill="#b42222" opacity="1.0"/><rect x="84" y="366" width="1" height="1" fill="#b42222" opacity="1.0"/><rect x="82" y="366" width="1" height="1" fill="#b42222" opacity="1.0"/><rect x="83" y="367" width="1" height="1" fill="#b42222" opacity="1.0"/><rect x="82" y="368" width="1" height="1" fill="#b42222" opacity="1.0"/><rect x="73" y="357" width="1" height="1" fill="#b42222" opacity="0.45"/><rect x="75" y="357" width="1" height="1" fill="#b42222" opacity="0.45"/><rect x="73" y="358" width="1" height="1" fill="#b42222" opacity="0.45"/><rect x="73" y="360" width="1" height="1" fill="#b42222" opacity="0.45"/><rect x="75" y="360" width="1" height="1" fill="#b42222" opacity="0.45"/><rect x="76" y="361" width="1" height="1" fill="#b42222" opacity="0.45"/><rect x="76" y="365" width="1" height="1" fill="#b42222" opacity="0.45"/><rect x="76" y="366" width="1" height="1" fill="#b42222" opacity="0.45"/><rect x="88" y="357" width="1" height="1" fill="#b42222" opacity="0.45"/><rect x="86" y="357" width="1" height="1" fill="#b42222" opacity="0.45"/><rect x="88" y="358" width="1" height="1" fill="#b42222" opacity="0.45"/><rect x="88" y="360" width="1" height="1" fill="#b42222" opacity="0.45"/><rect x="86" y="360" width="1" height="1" fill="#b42222" opacity="0.45"/><rect x="85" y="361" width="1" height="1" fill="#b42222" opacity="0.45"/><rect x="85" y="365" width="1" height="1" fill="#b42222" opacity="0.45"/><rect x="85" y="366" width="1" height="1" fill="#b42222" opacity="0.45"/><rect x="73" y="369" width="7" height="1" fill="#404048"/><rect x="81" y="369" width="2" height="2" fill="#2a4ad0"/><rect x="84" y="366" width="2" height="5" fill="#2a4ad0"/><rect x="87" y="368" width="2" height="3" fill="#2a4ad0"/><rect x="81" y="366" width="2" height="2" fill="#f4e8ec" opacity="0.7"/></g><g transform="translate(414,357)" opacity="0.8"><path d="M0.5,0.5 H7.5 L10.5,3.5 V12.5 H0.5 Z" fill="none" stroke="#7d8088" stroke-width="1"/><path d="M7.5,0.5 V3.5 H10.5" fill="none" stroke="#7d8088" stroke-width="1"/><rect x="2" y="2" width="4" height="1" fill="#7d8088" shape-rendering="crispEdges"/><rect x="2" y="4" width="4" height="1" fill="#7d8088" shape-rendering="crispEdges"/><rect x="2" y="6" width="7" height="1" fill="#7d8088" shape-rendering="crispEdges"/><rect x="2" y="8" width="7" height="1" fill="#7d8088" shape-rendering="crispEdges"/><rect x="2" y="10" width="6" height="1" fill="#7d8088" shape-rendering="crispEdges"/></g></svg>
</div></div>
<div class="r" style="left:-2px;top:0px;width:573px;height:1px;background:#70788a;"></div>
<div class="r" style="left:576px;top:0px;width:299px;height:449px;background:#f0f0f0;"></div>
<div class="r" style="left:582px;top:0px;width:2px;height:13px;background:#1a1a1a;"></div>
<svg class="r" style="left:586px;top:2px" width="6" height="10" viewBox="0 0 6 10"><path d="M0,0 L5.2,4.7 L0,9.4 Z" fill="#404040"/></svg>
<span class="t p" style="left:597.70px;top:-1px;letter-spacing:0.210px;color:#3a3a3a">Workflow Editor Settings</span>
<div class="r" style="left:576px;top:17px;width:299px;height:3px;background:#e2e2e2;"></div><div class="r" style="left:576px;top:20px;width:299px;height:1px;background:#b2b2b2;"></div><div class="r" style="left:680px;top:21px;width:194px;height:16px;background:#dcdcdc;"></div><div class="r" style="left:679px;top:21px;width:1px;height:16px;background:#a8a8a8;"></div><div class="r" style="left:874px;top:21px;width:1px;height:16px;background:#b2b2b2;"></div><div class="r" style="left:576px;top:37px;width:299px;height:1px;background:#b2b2b2;"></div><svg class="r" style="left:860px;top:24px" width="11" height="10" viewBox="0 0 11 10"><path d="M0.5,9.5 V0.5 H5.5 L6.5,1.5 H10.5 V9.5 Z" fill="none" stroke="#868686" stroke-width="1"/></svg><span class="t p" style="left:586.10px;top:21px;letter-spacing:0.205px;color:#000">Minimap</span>
<div class="r" style="left:576px;top:38px;width:299px;height:3px;background:#e2e2e2;"></div><div class="r" style="left:576px;top:41px;width:299px;height:1px;background:#b2b2b2;"></div><div class="r" style="left:680px;top:42px;width:194px;height:16px;background:#dcdcdc;"></div><div class="r" style="left:679px;top:42px;width:1px;height:16px;background:#a8a8a8;"></div><div class="r" style="left:874px;top:42px;width:1px;height:16px;background:#b2b2b2;"></div><div class="r" style="left:860px;top:48px;width:9px;height:1px;background:transparent;border:1px solid #868686;"></div><span class="t p" style="left:586.10px;top:42px;letter-spacing:0.175px;color:#000">Find</span>
<div class="r" style="left:580px;top:64px;width:231px;height:21px;background:#fff;border:1px solid #a4a8b2;"></div>
<span class="t p" style="left:582.90px;top:68px;letter-spacing:-0.596px;color:#000">RNA-Seq</span>
<div class="r" style="left:817px;top:65px;width:51px;height:19px;background:#fdfdfd;border:1px solid #d2d2d2;border-bottom-color:#b4b4b4;border-radius:4px;"></div>
<span class="t p" style="left:831.90px;top:68px;letter-spacing:0.175px;color:#000">Find</span>
<span class="t p" style="left:579.80px;top:90px;letter-spacing:-0.132px;color:#000">8 elements. Create Venn Diagram for RNA-Seq</span>
<div class="r" style="left:576px;top:108px;width:299px;height:1px;background:#b2b2b2;"></div>
<div class="r" style="left:576px;top:109px;width:299px;height:3px;background:#e2e2e2;"></div><div class="r" style="left:576px;top:112px;width:299px;height:1px;background:#b2b2b2;"></div><div class="r" style="left:680px;top:113px;width:194px;height:16px;background:#dcdcdc;"></div><div class="r" style="left:679px;top:113px;width:1px;height:16px;background:#a8a8a8;"></div><div class="r" style="left:874px;top:113px;width:1px;height:16px;background:#b2b2b2;"></div><div class="r" style="left:860px;top:119px;width:9px;height:1px;background:transparent;border:1px solid #868686;"></div><span class="t p" style="left:586.10px;top:113px;letter-spacing:-0.136px;color:#000">Display</span>
<svg class="r" style="left:584px;top:140px" width="13" height="13" viewBox="0 0 13 13"><rect x="0" y="0" width="13" height="13" rx="3" fill="#005fb8"/><path d="M3.1,6.6 L5.4,8.8 L9.9,4.2" fill="none" stroke="#e8f2fc" stroke-width="1.1"/></svg>
<span class="t p" style="left:601.00px;top:139px;letter-spacing:0.242px;color:#000">Show input and output channels</span>
<svg class="r" style="left:584px;top:166px" width="13" height="13" viewBox="0 0 13 13"><rect x="0" y="0" width="13" height="13" rx="3" fill="#005fb8"/><path d="M3.1,6.6 L5.4,8.8 L9.9,4.2" fill="none" stroke="#e8f2fc" stroke-width="1.1"/></svg>
<span class="t p" style="left:601.00px;top:165px;letter-spacing:0.008px;color:#000">Fade unconnected channels</span>
<svg class="r" style="left:584px;top:192px" width="13" height="13" viewBox="0 0 13 13"><rect x="0" y="0" width="13" height="13" rx="3" fill="#005fb8"/><path d="M3.1,6.6 L5.4,8.8 L9.9,4.2" fill="none" stroke="#e8f2fc" stroke-width="1.1"/></svg>
<span class="t p" style="left:601.00px;top:191px;letter-spacing:0.061px;color:#000">Send connections to back</span>
<span class="t p" style="left:580.00px;top:216px;letter-spacing:0.133px;color:#000">Auto layout distance</span>
<div class="r" style="left:821px;top:213px;width:48px;height:20px;background:#fff;border:1px solid #a8acb8;"></div>
<div class="r" style="left:853px;top:214px;width:16px;height:20px;background:#f0f0f0;"></div>
<div class="r" style="left:855px;top:216px;width:12px;height:6px;background:#fcfcfc;border:1px solid #dcdcdc;border-bottom-color:#b8b8b8;border-radius:2px;"></div>
<div class="r" style="left:855px;top:225px;width:12px;height:6px;background:#fcfcfc;border:1px solid #dcdcdc;border-bottom-color:#b8b8b8;border-radius:2px;"></div>
<svg class="r" style="left:858px;top:217px" width="7" height="14" viewBox="0 0 7 14"><path d="M0.6,4 L3.5,0.5 L6.4,4 Z M0.6,9.8 L3.5,13.4 L6.4,9.8 Z" fill="#202020"/></svg>
<span class="t p" style="left:838.80px;top:216px;letter-spacing:-0.297px;color:#000">50</span>
<div class="r" style="left:576px;top:238px;width:299px;height:1px;background:#b2b2b2;"></div>
<div class="r" style="left:576px;top:239px;width:299px;height:3px;background:#e2e2e2;"></div><div class="r" style="left:576px;top:242px;width:299px;height:1px;background:#b2b2b2;"></div><div class="r" style="left:680px;top:243px;width:194px;height:16px;background:#dcdcdc;"></div><div class="r" style="left:679px;top:243px;width:1px;height:16px;background:#a8a8a8;"></div><div class="r" style="left:874px;top:243px;width:1px;height:16px;background:#b2b2b2;"></div><div class="r" style="left:576px;top:259px;width:299px;height:1px;background:#b2b2b2;"></div><svg class="r" style="left:860px;top:246px" width="11" height="10" viewBox="0 0 11 10"><path d="M0.5,9.5 V0.5 H5.5 L6.5,1.5 H10.5 V9.5 Z" fill="none" stroke="#868686" stroke-width="1"/></svg><span class="t p" style="left:586.10px;top:243px;letter-spacing:-0.144px;color:#000">Element style</span>
<div class="r" style="left:576px;top:260px;width:299px;height:3px;background:#e2e2e2;"></div><div class="r" style="left:576px;top:263px;width:299px;height:1px;background:#b2b2b2;"></div><div class="r" style="left:686px;top:264px;width:188px;height:16px;background:#dcdcdc;"></div><div class="r" style="left:685px;top:264px;width:1px;height:16px;background:#a8a8a8;"></div><div class="r" style="left:874px;top:264px;width:1px;height:16px;background:#b2b2b2;"></div><div class="r" style="left:576px;top:280px;width:299px;height:1px;background:#b2b2b2;"></div><svg class="r" style="left:860px;top:267px" width="11" height="10" viewBox="0 0 11 10"><path d="M0.5,9.5 V0.5 H5.5 L6.5,1.5 H10.5 V9.5 Z" fill="none" stroke="#868686" stroke-width="1"/></svg><span class="t p" style="left:586.10px;top:264px;letter-spacing:0.071px;color:#000">Connection style</span>
<div class="r" style="left:576px;top:281px;width:299px;height:3px;background:#e2e2e2;"></div><div class="r" style="left:576px;top:284px;width:299px;height:1px;background:#b2b2b2;"></div><div class="r" style="left:680px;top:285px;width:194px;height:16px;background:#dcdcdc;"></div><div class="r" style="left:679px;top:285px;width:1px;height:16px;background:#a8a8a8;"></div><div class="r" style="left:874px;top:285px;width:1px;height:16px;background:#b2b2b2;"></div><div class="r" style="left:576px;top:301px;width:299px;height:1px;background:#b2b2b2;"></div><svg class="r" style="left:860px;top:288px" width="11" height="10" viewBox="0 0 11 10"><path d="M0.5,9.5 V0.5 H5.5 L6.5,1.5 H10.5 V9.5 Z" fill="none" stroke="#868686" stroke-width="1"/></svg><span class="t p" style="left:586.10px;top:285px;letter-spacing:-0.560px;color:#000">Canvas</span>
<div class="r" style="left:576px;top:302px;width:299px;height:3px;background:#e2e2e2;"></div><div class="r" style="left:576px;top:305px;width:299px;height:1px;background:#b2b2b2;"></div><div class="r" style="left:680px;top:306px;width:194px;height:16px;background:#dcdcdc;"></div><div class="r" style="left:679px;top:306px;width:1px;height:16px;background:#a8a8a8;"></div><div class="r" style="left:874px;top:306px;width:1px;height:16px;background:#b2b2b2;"></div><div class="r" style="left:576px;top:322px;width:299px;height:1px;background:#b2b2b2;"></div><svg class="r" style="left:860px;top:309px" width="11" height="10" viewBox="0 0 11 10"><path d="M0.5,9.5 V0.5 H5.5 L6.5,1.5 H10.5 V9.5 Z" fill="none" stroke="#868686" stroke-width="1"/></svg><span class="t p" style="left:586.10px;top:306px;letter-spacing:0.048px;color:#000">Snippets</span>
<div class="r" style="left:576px;top:323px;width:299px;height:126px;background:#dcdcdc;"></div>
</div></div>
<div class="r" style="left:0px;top:453px;width:572px;height:1px;background:#0a6fd0;"></div>
<div class="r" style="left:0px;top:914px;width:573px;height:1px;background:#0a6fd0;"></div>
<div class="r" style="left:578px;top:914px;width:299px;height:1px;background:#f0f0f0;"></div>
<svg class="r" style="left:0;top:0" width="877" height="1364"><line x1="0" y1="455.5" x2="877" y2="452.2" stroke="#1e96ee" stroke-width="3"/><line x1="0" y1="913.5" x2="877" y2="910.2" stroke="#1e96ee" stroke-width="3"/></svg>
</body></html>
